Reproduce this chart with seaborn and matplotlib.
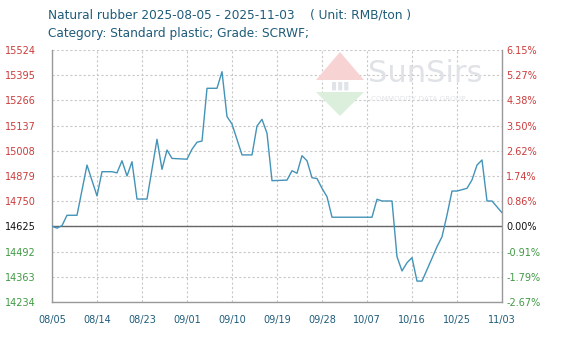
import matplotlib
matplotlib.use("Agg")
import matplotlib.pyplot as plt
from matplotlib.patches import Polygon
import seaborn as sns
import pandas as pd

# ---------------- data ----------------
dates = ["2025-08-05", "2025-08-06", "2025-08-07", "2025-08-08", "2025-08-10", "2025-08-12",
         "2025-08-14", "2025-08-15", "2025-08-17", "2025-08-18", "2025-08-19", "2025-08-20",
         "2025-08-21", "2025-08-22", "2025-08-24", "2025-08-26", "2025-08-27", "2025-08-28",
         "2025-08-29", "2025-09-01", "2025-09-02", "2025-09-03", "2025-09-04", "2025-09-05",
         "2025-09-07", "2025-09-08", "2025-09-09", "2025-09-10", "2025-09-12", "2025-09-14",
         "2025-09-15", "2025-09-16", "2025-09-17", "2025-09-18", "2025-09-21", "2025-09-22",
         "2025-09-23", "2025-09-24", "2025-09-25", "2025-09-26", "2025-09-27", "2025-09-28",
         "2025-09-29", "2025-09-30", "2025-10-08", "2025-10-09", "2025-10-10", "2025-10-12",
         "2025-10-13", "2025-10-14", "2025-10-15", "2025-10-16", "2025-10-17", "2025-10-18",
         "2025-10-20", "2025-10-21", "2025-10-22", "2025-10-23", "2025-10-24", "2025-10-25",
         "2025-10-27", "2025-10-28", "2025-10-29", "2025-10-30", "2025-10-31", "2025-11-01",
         "2025-11-03"]
prices = [14622, 14612, 14625, 14678, 14678, 14935,
          14777, 14901, 14901, 14895, 14957, 14879,
          14952, 14761, 14761, 15067, 14913, 15012,
          14969, 14965, 15016, 15052, 15058, 15328,
          15328, 15413, 15183, 15145, 14987, 14987,
          15135, 15169, 15098, 14855, 14858, 14906,
          14893, 14983, 14957, 14870, 14866, 14816,
          14773, 14668, 14668, 14760, 14751, 14751,
          14466, 14393, 14435, 14461, 14341, 14341,
          14458, 14517, 14568, 14679, 14802, 14802,
          14816, 14859, 14935, 14961, 14751, 14751,
          14691]

base_price = 14625
left_ticks = [15524, 15395, 15266, 15137, 15008, 14879, 14750, 14625, 14492, 14363, 14234]
right_labels = ["6.15%", "5.27%", "4.38%", "3.50%", "2.62%", "1.74%", "0.86%",
                "0.00%", "-0.91%", "-1.79%", "-2.67%"]
x_labels = ["08/05", "08/14", "08/23", "09/01", "09/10", "09/19",
            "09/28", "10/07", "10/16", "10/25", "11/03"]
x_tick_dates = ["2025-08-05", "2025-08-14", "2025-08-23", "2025-09-01", "2025-09-10",
                "2025-09-19", "2025-09-28", "2025-10-07", "2025-10-16", "2025-10-25",
                "2025-11-03"]

title1 = "Natural rubber 2025-08-05 - 2025-11-03    ( Unit: RMB/ton )"
title2 = "Category: Standard plastic; Grade: SCRWF;"

# ---------------- style ----------------
sns.set_theme(style="white")
plt.rcParams['font.family'] = ['DejaVu Sans']

RED = "#cc3b3b"
GREEN = "#3f9a44"
TEAL = "#1f5c7a"
LINE = "#4393b8"

W, H = 561, 340
fig = plt.figure(figsize=(W / 100, H / 100), dpi=100)
fig.patch.set_facecolor("white")

# watermark logo (decoration)
def px(x, y):
    return (x / W, 1 - y / H)

fig.patches.append(Polygon([px(316, 80), px(340, 52), px(364, 80)], closed=True,
                           transform=fig.transFigure, facecolor="#f8d3d3",
                           edgecolor="none", zorder=0))
fig.patches.append(Polygon([px(316, 92), px(340, 116), px(364, 92)], closed=True,
                           transform=fig.transFigure, facecolor="#dcefdc",
                           edgecolor="none", zorder=0))
fig.text(*px(340, 86), "▮▮▮", color="#e0e3e8", fontsize=8, ha="center", va="center", zorder=0)
fig.text(*px(368, 74), "SunSirs", color="#dfe2e6", fontsize=22, ha="left", va="center",
         zorder=0)
fig.text(*px(371, 99), "COMMODITY DATA GROUP", color="#e2e4e8", fontsize=5.2,
         ha="left", va="center", zorder=0)

ax = fig.add_axes([52 / W, 1 - 302 / H, 450 / W, 252 / H])
ax.set_facecolor("none")

df = pd.DataFrame({"date": pd.to_datetime(dates), "price": prices})
sns.lineplot(data=df, x="date", y="price", ax=ax, color=LINE, linewidth=1.0, zorder=3)

ax.set_ylim(min(left_ticks), max(left_ticks))
ax.set_xlim(pd.Timestamp(x_tick_dates[0]), pd.Timestamp(x_tick_dates[-1]))

ax.set_yticks(left_ticks)
ax.set_yticklabels([str(t) for t in left_ticks], fontsize=7)
for lab, t in zip(ax.get_yticklabels(), left_ticks):
    lab.set_color(RED if t > base_price else ("#111111" if t == base_price else GREEN))

ax.set_xticks(pd.to_datetime(x_tick_dates))
ax.set_xticklabels(x_labels, fontsize=7, color=TEAL)
ax.tick_params(axis="x", length=0, pad=9)
ax.tick_params(axis="y", length=0, pad=11.5)
ax.set_xlabel("")
ax.set_ylabel("")

ax.grid(True, linestyle=(0, (2, 2)), color="#c8c8c8", linewidth=0.8, zorder=1)
ax.axhline(base_price, color="#666666", linewidth=1.0, zorder=2)

for s in ["left", "right", "bottom"]:
    ax.spines[s].set_color("#999999")
    ax.spines[s].set_linewidth(1.0)
ax.spines["top"].set_visible(False)

ax2 = ax.twinx()
ax2.set_ylim(ax.get_ylim())
ax2.set_yticks(left_ticks)
ax2.set_yticklabels(right_labels, fontsize=7)
for lab, t in zip(ax2.get_yticklabels(), left_ticks):
    lab.set_color(RED if t > base_price else ("#111111" if t == base_price else GREEN))
ax2.tick_params(axis="y", length=0, pad=3)
ax2.grid(False)
for s in ["left", "right", "bottom", "top"]:
    ax2.spines[s].set_visible(False)

fig.text(48 / W, 1 - 8 / H, title1, color=TEAL, fontsize=8.7, ha="left", va="top")
fig.text(48 / W, 1 - 27 / H, title2, color=TEAL, fontsize=8.7, ha="left", va="top")

fig.savefig("out.png", dpi=100)
